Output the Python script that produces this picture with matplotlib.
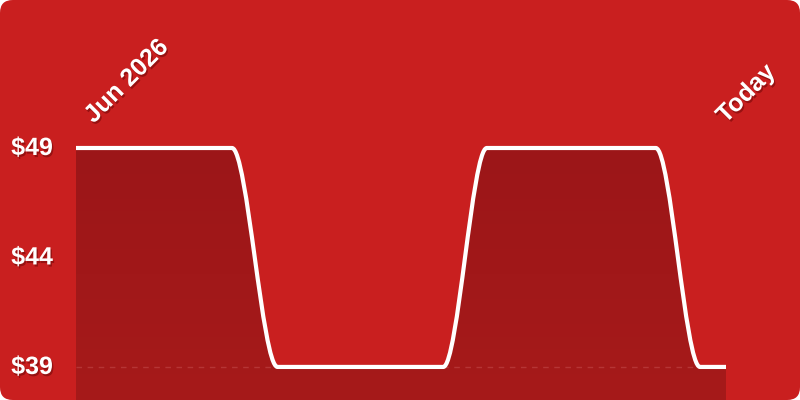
import numpy as np
import matplotlib
matplotlib.use("Agg")
from matplotlib import pyplot as plt
from matplotlib.path import Path
from matplotlib.patches import PathPatch, FancyBboxPatch
import matplotlib.patheffects as pe

# data: days since start of period, price in $
days = [0, 24, 31, 56.5, 63.2, 89.2, 96, 100]
prices = [49, 49, 39, 39, 49, 49, 39, 39]
y_ticks = [49, 44, 39]
start_label = "Jun 2026"
end_label = "Today"

BG = "#c91f1f"
plt.rcParams["font.family"] = ["Liberation Sans", "DejaVu Sans"]


def monotone_path(x, y):
    # monotone cubic (like d3 curveMonotoneX) as bezier segments
    x = np.asarray(x, float)
    y = np.asarray(y, float)
    n = len(x)
    h = np.diff(x)
    s = np.diff(y) / h
    t = np.zeros(n)
    for i in range(1, n - 1):
        if s[i - 1] * s[i] <= 0:
            t[i] = 0
        else:
            p = (s[i - 1] * h[i] + s[i] * h[i - 1]) / (h[i - 1] + h[i])
            t[i] = (np.sign(s[i - 1]) + np.sign(s[i])) * min(abs(s[i - 1]), abs(s[i]), 0.5 * abs(p))
    t[0] = s[0]
    t[-1] = s[-1]
    verts = [(x[0], y[0])]
    codes = [Path.MOVETO]
    for i in range(n - 1):
        dx = h[i] / 3
        verts += [(x[i] + dx, y[i] + dx * t[i]),
                  (x[i + 1] - dx, y[i + 1] - dx * t[i + 1]),
                  (x[i + 1], y[i + 1])]
        codes += [Path.CURVE4] * 3
    return verts, codes


fig = plt.figure(figsize=(8, 4), dpi=100)
fig.patch.set_facecolor("white")
fig.patches.append(FancyBboxPatch((0, 0), 1, 1,
                                  boxstyle="round,pad=0,rounding_size=0.016",
                                  transform=fig.transFigure, facecolor=BG,
                                  edgecolor="none", zorder=-5,
                                  mutation_aspect=2))

ax = fig.add_axes([0.095, 0.0, 0.8125, 1.0])
ax.set_facecolor("none")
ax.set_xlim(days[0], days[-1])
ymin, ymax = 37.49, 55.76
ax.set_ylim(ymin, ymax)
ax.axis("off")

verts, codes = monotone_path(days, prices)

# fill under the line with a subtle vertical gradient
fill_verts = verts + [(days[-1], ymin), (days[0], ymin), verts[0]]
fill_codes = codes + [Path.LINETO, Path.LINETO, Path.CLOSEPOLY]
fill_patch = PathPatch(Path(fill_verts, fill_codes), facecolor="none", edgecolor="none")
ax.add_patch(fill_patch)
grad = np.linspace(0, 1, 256).reshape(-1, 1)
cmap = matplotlib.colors.LinearSegmentedColormap.from_list("f", ["#a61a1a", "#9c1618"])
im = ax.imshow(grad, extent=[days[0], days[-1], ymin, 49], origin="lower",
               cmap=cmap, aspect="auto", zorder=1)
im.set_clip_path(fill_patch)

# dashed baseline at the lowest price
ax.axhline(min(prices), color="#c24848", lw=1, ls=(0, (4, 4)), alpha=0.6, zorder=2)

ax.add_patch(PathPatch(Path(verts, codes), facecolor="none", edgecolor="white",
                       lw=3, capstyle="butt", joinstyle="round", zorder=3))

shadow = [pe.SimplePatchShadow(offset=(1, -1.5), shadow_rgbFace="#5a0000", alpha=0.45),
          pe.Normal()]

for v in y_ticks:
    fig.text(0.04, ax.transData.transform((0, v))[1] / fig.bbox.height,
             f"${v}", color="white", fontsize=18, fontweight="bold",
             ha="center", va="center", path_effects=shadow)

fig.text(0.117, 0.69, start_label, color="white", fontsize=18, fontweight="bold",
         rotation=45, rotation_mode="anchor", ha="left", va="baseline",
         path_effects=shadow)
fig.text(0.907, 0.69, end_label, color="white", fontsize=18, fontweight="bold",
         rotation=45, rotation_mode="anchor", ha="left", va="baseline",
         path_effects=shadow)

fig.savefig("out.png", dpi=100, facecolor=fig.get_facecolor())
